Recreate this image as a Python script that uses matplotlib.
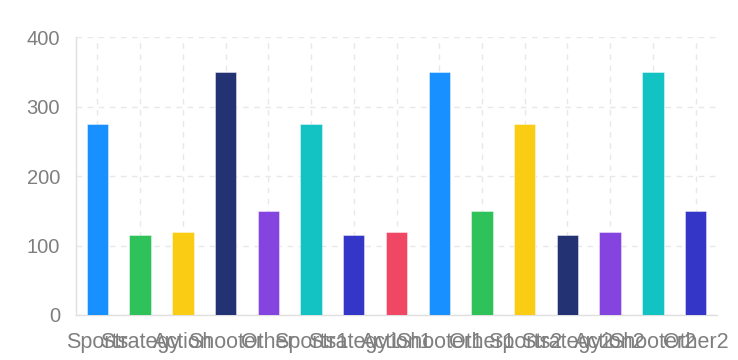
import numpy as np
import matplotlib
matplotlib.use("Agg")
import matplotlib.pyplot as plt

# data
genres = ["Sports", "Strategy", "Action", "Shooter", "Other",
          "Sports1", "Strategy1", "Action1", "Shooter1", "Other1",
          "Sports2", "Strategy2", "Action2", "Shooter2", "Other2"]
sold = [275, 115, 120, 350, 150, 275, 115, 120, 350, 150, 275, 115, 120, 350, 150]
colors = ["#1890FF", "#2FC25B", "#FACC14", "#223273", "#8543E0",
          "#13C2C2", "#3436C7", "#F04864", "#1890FF", "#2FC25B",
          "#FACC14", "#223273", "#8543E0", "#13C2C2", "#3436C7"]
yticks = [0, 100, 200, 300, 400]

plt.rcParams['font.family'] = ['Liberation Sans', 'DejaVu Sans']

fig = plt.figure(figsize=(7.38, 3.6), dpi=100)
ax = fig.add_axes([76/738, 1-315/360, (717-76)/738, (315-37.3)/360])

x = np.arange(len(genres))
ax.bar(x, sold, width=0.5, color=colors, edgecolor=(1, 1, 1, 0.5), linewidth=0.6, zorder=3)

ax.set_xlim(-0.5, len(genres)-0.5)
ax.set_ylim(0, 400)
ax.set_yticks(yticks)
ax.set_xticks(x)
ax.set_xticklabels(genres)

ax.grid(True, color="#e8e8e8", linestyle=(0, (4, 4)), linewidth=1, zorder=0)

for s in ["top", "right"]:
    ax.spines[s].set_visible(False)
for s in ["left", "bottom"]:
    ax.spines[s].set_color("#e0e0e0")
    ax.spines[s].set_linewidth(1)

ax.tick_params(axis="both", length=0, colors="#7f7f7f")
ax.tick_params(axis="y", pad=11.5, labelsize=14.5)
ax.tick_params(axis="x", pad=12, labelsize=15.5)

fig.savefig("out.png", dpi=100)
